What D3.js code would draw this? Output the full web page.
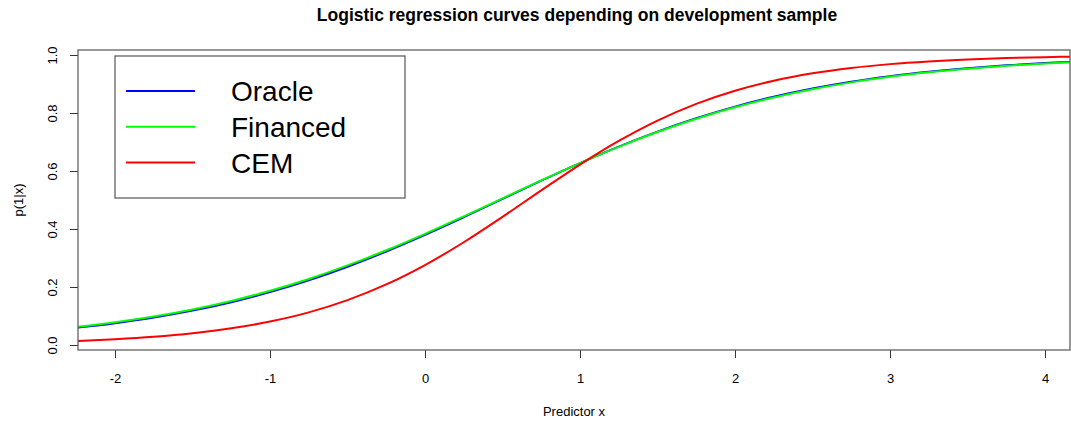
<!DOCTYPE html>
<html><head><meta charset="utf-8">
<script src="https://cdn.jsdelivr.net/npm/d3@7"></script>
<style>body{margin:0;background:#fff}svg{display:block}text{font-family:"Liberation Sans",Arial,sans-serif;fill:#000}</style>
</head><body><svg id="c" width="1071" height="425"></svg>
<script>
const xs = [-2.25,-2,-1.75,-1.5,-1.25,-1,-0.75,-0.5,-0.25,0,0.25,0.5,0.75,1,1.25,1.5,1.75,2,2.25,2.5,2.75,3,3.25,3.5,3.75,4,4.25];
const oracle = [0.0594,0.0752,0.0947,0.1187,0.1477,0.1824,0.2231,0.2699,0.3225,0.3799,0.4409,0.5037,0.5665,0.6271,0.6840,0.7359,0.7820,0.8220,0.8560,0.8844,0.9079,0.9269,0.9422,0.9545,0.9643,0.9721,0.9782];
const financed = [0.0622,0.0784,0.0983,0.1227,0.1520,0.1869,0.2277,0.2744,0.3266,0.3834,0.4437,0.5056,0.5674,0.6271,0.6832,0.7344,0.7800,0.8198,0.8537,0.8820,0.9056,0.9248,0.9403,0.9528,0.9628,0.9708,0.9771];
const cem = [0.0139,0.0200,0.0285,0.0406,0.0575,0.0809,0.1126,0.1547,0.2088,0.2757,0.3543,0.4418,0.5330,0.6220,0.7035,0.7738,0.8314,0.8767,0.9112,0.9367,0.9552,0.9685,0.9779,0.9846,0.9893,0.9926,0.9948];
const seriesNames = ["Oracle","Financed","CEM"];
const seriesColors = ["#0000ff","#00ff00","#ff0000"];
const xTicks = [-2,-1,0,1,2,3,4];
const yTicks = [0,0.2,0.4,0.6,0.8,1.0];
const title = "Logistic regression curves depending on development sample";

const svg = d3.select("#c");
const L=78,R=1070,T=50,B=350;
const x = d3.scaleLinear().domain([-2.2387,4.1613]).range([L,R]);
const y = d3.scaleLinear().domain([-0.0172,1.0172]).range([B,T]);

svg.append("defs").append("clipPath").attr("id","clip").append("rect")
  .attr("x",L).attr("y",T).attr("width",R-L).attr("height",B-T);

const series=[oracle,financed,cem];
const line = d3.line().x(d=>x(d[0])).y(d=>y(d[1])).curve(d3.curveCatmullRom);
const g = svg.append("g").attr("clip-path","url(#clip)");
series.forEach((s,i)=>{
  g.append("path").datum(xs.map((v,j)=>[v,s[j]])).attr("d",line)
   .attr("fill","none").attr("stroke",seriesColors[i]).attr("stroke-width",2);
});

// axes
const xa = svg.append("g").attr("transform",`translate(0,${B})`)
  .call(d3.axisBottom(x).tickValues(xTicks).tickSize(8).tickSizeOuter(0).tickPadding(16).tickFormat(d=>String(d)));
const ya = svg.append("g").attr("transform",`translate(${L},0)`)
  .call(d3.axisLeft(y).tickValues(yTicks).tickSize(8).tickSizeOuter(0).tickFormat(d3.format(".1f")));
[xa,ya].forEach(a=>{a.select(".domain").remove();a.selectAll("line").attr("stroke","#333");a.selectAll("text").attr("font-size",13).attr("font-family",null);});
ya.selectAll(".tick text").attr("x",null).attr("dy",null).attr("text-anchor","middle")
  .attr("transform","translate(-21,0) rotate(-90)");

svg.append("rect").attr("x",L).attr("y",T).attr("width",R-L).attr("height",B-T)
  .attr("fill","none").attr("stroke","#555").attr("stroke-width",1.2);

svg.append("text").attr("x",(L+R)/2+3).attr("y",21).attr("text-anchor","middle")
  .attr("font-weight","bold").attr("font-size",17.5).text(title);
svg.append("text").attr("x",(L+R)/2).attr("y",416).attr("text-anchor","middle").attr("font-size",13).text("Predictor x");
svg.append("text").attr("transform","translate(23,200) rotate(-90)").attr("text-anchor","middle").attr("font-size",13).text("p(1|x)");

// legend
const lg = svg.append("g");
lg.append("rect").attr("x",115).attr("y",56).attr("width",290).attr("height",142)
  .attr("fill","#fff").attr("stroke","#555").attr("stroke-width",1.2);
seriesNames.forEach((n,i)=>{
  const yy = 91 + i*35.8;
  lg.append("line").attr("x1",126).attr("x2",195).attr("y1",yy).attr("y2",yy)
    .attr("stroke",seriesColors[i]).attr("stroke-width",2);
  lg.append("text").attr("x",231).attr("y",yy).attr("dy","0.36em").attr("font-size",28).text(n);
});
</script></body></html>
